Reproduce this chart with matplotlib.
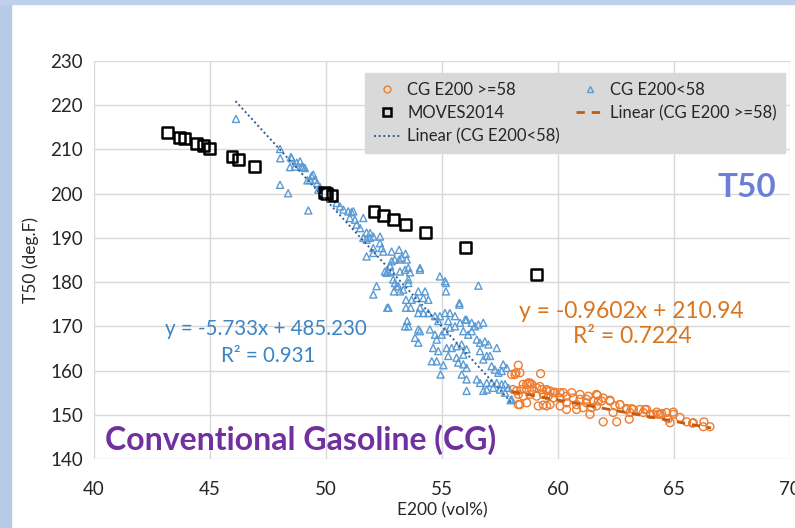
import numpy as np
import matplotlib.pyplot as plt
from matplotlib.patches import Rectangle
from matplotlib.lines import Line2D

plt.rcParams['font.family'] = ['Lato', 'DejaVu Sans']

# MOVES2014 points
moves_x = [43.18, 43.68, 43.89, 44.40, 44.71, 44.97, 45.95, 46.24, 46.90,
           49.93, 50.03, 50.26, 52.07, 52.47, 52.93, 53.41, 54.30, 56.02, 59.09]
moves_y = [213.8, 212.8, 212.5, 211.4, 210.8, 210.3, 208.3, 207.8, 206.2,
           200.3, 200.1, 199.5, 196.0, 195.1, 194.2, 193.1, 191.3, 187.8, 181.7]

# CG E200<58 (blue triangles)
blue_x = [46.12, 48.02, 48.03, 48.49, 48.74, 48.88, 48.45, 48.66, 48.95, 49.09,
          48.02, 48.37, 49.45, 49.31, 49.53, 49.62, 49.20, 49.74, 49.67, 48.52,
          49.02, 49.24, 49.38, 50.46, 50.60, 50.75, 50.96, 51.18, 51.61, 51.10,
          51.03, 51.25, 51.32, 51.47, 51.75, 51.90, 52.04, 51.61, 51.75, 51.90,
          52.33, 52.33, 52.40, 52.47, 52.04, 51.75, 52.04, 52.83, 53.15, 53.43,
          53.48, 53.16, 52.96, 52.83, 53.26, 52.76, 52.69, 52.54, 52.83, 53.19,
          53.41, 53.55, 53.62, 53.55, 52.90, 53.05, 52.18, 54.05, 52.04, 52.97,
          53.12, 52.93, 53.19, 53.33, 53.55, 52.69, 53.45, 53.69, 53.91, 53.98,
          54.27, 54.41, 54.20, 53.45, 53.65, 53.98, 54.20, 54.41, 54.05, 55.17,
          55.17, 55.75, 54.70, 54.91, 55.13, 55.34, 55.56, 55.27, 54.84, 53.50,
          53.41, 53.55, 53.98, 54.05, 54.48, 54.70, 54.99, 54.77, 55.13, 55.34,
          55.56, 55.78, 56.00, 53.84, 53.98, 54.62, 54.84, 55.20, 55.42, 55.63,
          55.85, 56.06, 54.56, 54.77, 55.27, 55.63, 55.92, 55.70, 55.92, 56.06,
          55.06, 54.94, 55.85, 56.06, 56.06, 56.57, 57.36, 56.06, 56.28, 56.42,
          56.57, 56.78, 55.92, 56.13, 56.28, 56.50, 56.64, 56.85, 57.00, 56.64,
          56.93, 57.07, 56.78, 57.64, 57.79, 57.57, 57.43, 57.28, 57.14, 56.50,
          56.64, 56.93, 57.14, 57.36, 57.57, 57.72, 57.86, 56.93, 57.21, 57.50,
          57.72, 56.78, 58.00, 57.96, 52.61, 54.05, 54.91, 55.13, 55.75, 52.64]
blue_y = [216.9, 210.1, 208.0, 208.3, 207.0, 207.3, 206.0, 206.1, 206.1, 205.8,
          202.0, 200.1, 204.3, 203.1, 203.1, 202.4, 203.0, 201.5, 200.9, 208.0,
          206.0, 196.2, 204.0, 197.9, 197.1, 196.4, 196.0, 196.0, 194.5, 195.8,
          194.5, 194.1, 193.0, 192.2, 191.2, 191.1, 190.3, 190.0, 189.6, 190.0,
          190.3, 188.8, 187.7, 186.9, 187.7, 185.8, 186.6, 186.9, 187.3, 186.4,
          185.1, 185.1, 185.1, 184.7, 185.5, 183.7, 182.2, 182.4, 182.4, 182.4,
          182.8, 183.2, 182.2, 180.6, 180.6, 179.1, 179.1, 182.8, 177.2, 179.8,
          179.1, 177.9, 177.9, 178.3, 179.8, 174.2, 176.0, 176.0, 176.4, 177.9,
          177.9, 176.0, 176.4, 174.2, 174.2, 173.0, 173.0, 173.0, 174.2, 179.8,
          177.9, 174.9, 172.3, 172.3, 173.0, 173.0, 172.3, 171.2, 171.2, 171.2,
          170.0, 170.0, 169.3, 168.9, 169.3, 168.1, 168.1, 167.0, 168.9, 169.7,
          170.0, 170.8, 171.5, 167.4, 166.3, 165.1, 164.4, 165.1, 165.1, 165.5,
          165.9, 164.8, 162.1, 162.1, 163.3, 162.9, 163.6, 161.8, 161.4, 160.6,
          161.2, 159.1, 159.1, 158.0, 155.4, 179.2, 165.1, 171.5, 170.8, 170.0,
          170.4, 170.8, 168.9, 168.1, 168.9, 167.0, 166.3, 166.6, 165.9, 164.4,
          163.3, 163.3, 162.5, 161.4, 160.6, 159.9, 159.5, 160.2, 161.0, 158.0,
          157.2, 157.2, 157.2, 157.2, 156.9, 156.9, 156.1, 155.7, 156.1, 155.7,
          155.0, 155.4, 153.5, 153.3, 182.1, 183.2, 181.3, 180.2, 175.3, 174.2]

# CG E200 >=58 (orange circles)
orange_x = [58.29, 58.19, 58.36, 59.25, 58.72, 58.87, 58.50, 58.43, 58.65, 58.87,
            59.08, 59.29, 59.51, 59.66, 59.87, 60.09, 58.22, 58.07, 58.29, 58.50,
            58.79, 59.08, 59.37, 59.58, 59.80, 60.09, 60.37, 60.66, 60.95, 61.23,
            61.52, 61.74, 58.36, 59.15, 59.51, 60.09, 60.37, 60.80, 61.23, 61.45,
            61.66, 58.79, 59.22, 59.51, 59.80, 60.23, 60.59, 60.95, 61.31, 61.66,
            61.95, 59.37, 59.66, 60.37, 60.80, 61.09, 61.38, 62.24, 62.46, 62.67,
            62.96, 63.25, 63.53, 63.82, 64.11, 64.40, 64.68, 64.97, 65.26, 65.55,
            65.83, 66.29, 66.55, 61.95, 62.53, 64.97, 63.68, 64.25, 61.70, 61.88,
            62.24, 62.67, 62.96, 63.17, 63.75, 62.38, 63.10, 63.97, 64.32, 64.47,
            63.07, 64.75, 64.83, 65.80, 66.26, 58.00, 58.15, 58.65, 58.29, 58.65]
orange_y = [161.2, 159.5, 159.5, 159.3, 157.2, 156.9, 156.9, 155.7, 155.7, 155.7,
            156.1, 155.7, 155.7, 155.4, 155.1, 155.0, 155.4, 155.7, 154.6, 154.2,
            154.6, 154.2, 154.6, 154.2, 153.8, 153.8, 154.2, 153.8, 153.5, 153.5,
            153.1, 153.1, 152.3, 152.0, 152.0, 152.0, 152.7, 152.3, 152.7, 151.6,
            152.0, 157.2, 156.4, 155.4, 155.0, 155.0, 155.0, 154.6, 154.2, 154.6,
            153.8, 152.2, 152.3, 151.2, 151.2, 151.6, 150.1, 153.1, 152.0, 152.3,
            151.2, 151.2, 151.2, 151.2, 150.1, 150.1, 150.5, 150.1, 149.4, 148.4,
            148.2, 148.4, 147.3, 148.4, 148.4, 150.6, 150.5, 150.6, 154.4, 153.1,
            153.3, 152.3, 151.4, 151.4, 151.2, 150.5, 150.5, 150.1, 150.1, 150.3,
            149.0, 149.1, 148.2, 148.1, 147.3, 159.1, 159.1, 156.9, 152.3, 152.7]

# trendlines (Excel fits)
blue_slope, blue_icpt = -5.733, 485.230
orange_slope, orange_icpt = -0.9602, 210.94
blue_range = [46.1, 58.0]
orange_range = [58.0, 66.6]

fig = plt.figure(figsize=(7.95, 5.28), dpi=100)
# slide frame bits
fig.patches.append(Rectangle((0, 0), 0.014, 1, transform=fig.transFigure,
                             color='#b8cbe6', zorder=0))
fig.patches.append(Rectangle((0, 0.992), 1, 0.008, transform=fig.transFigure,
                             color='#bfd0ea', zorder=0))

ax = fig.add_axes([0.1182, 0.1307, 0.8755, 0.7538])
ax.set_xlim(40, 70)
ax.set_ylim(140, 230)
ax.set_xticks(np.arange(40, 71, 5))
ax.set_yticks(np.arange(140, 231, 10))
ax.grid(True, color='#d9d9d9', lw=1)
ax.set_axisbelow(True)
for s in ax.spines.values():
    s.set_visible(False)
ax.tick_params(length=0, labelsize=13.5, colors='#262626')
ax.tick_params(axis='x', pad=16)
ax.tick_params(axis='y', pad=8)
ax.set_xlabel('E200 (vol%)', fontsize=12.5, color='#262626', labelpad=3)
ax.set_ylabel('T50 (deg.F)', fontsize=12.5, color='#262626', labelpad=8)

ax.scatter(orange_x, orange_y, s=32, facecolors='none', edgecolors='#ed7d31',
           linewidths=1.0, zorder=3)
ax.scatter(blue_x, blue_y, marker='^', s=26, facecolors='none',
           edgecolors='#5b9bd5', linewidths=1.0, zorder=3)
ax.scatter(moves_x, moves_y, marker='s', s=62, facecolors='none',
           edgecolors='black', linewidths=1.8, zorder=4)

xb = np.array(blue_range)
ax.plot(xb, blue_slope * xb + blue_icpt, color='#2f5f93', lw=1.4,
        linestyle=(0, (1, 1.4)), zorder=5)
xo = np.array(orange_range)
ax.plot(xo, orange_slope * xo + orange_icpt, color='#c55a11', lw=2,
        linestyle=(0, (3, 2.5)), zorder=5)

handles = [
    Line2D([], [], marker='o', ls='none', mfc='none', mec='#ed7d31', ms=5),
    Line2D([], [], marker='s', ls='none', mfc='none', mec='black', mew=1.8, ms=6),
    Line2D([], [], color='#2f5f93', lw=1.4, linestyle=(0, (1, 1.4))),
    Line2D([], [], marker='^', ls='none', mfc='none', mec='#5b9bd5', ms=5),
    Line2D([], [], color='#c55a11', lw=2, linestyle=(0, (3, 2.5))),
]
labels = ['CG E200 >=58', 'MOVES2014', 'Linear (CG E200<58)',
          'CG E200<58', 'Linear (CG E200 >=58)']
leg = ax.legend(handles, labels, ncol=2, loc='upper left',
                bbox_to_anchor=(0.378, 0.99), fontsize=12, frameon=True,
                fancybox=False, facecolor='#d9d9d9', edgecolor='#d9d9d9',
                framealpha=1, handlelength=1.6, handletextpad=0.4,
                columnspacing=1.0, labelspacing=0.45, borderpad=0.5)
for t in leg.get_texts():
    t.set_color('#262626')
leg.set_zorder(6)

ax.text(47.41, 169.3, 'y = -5.733x + 485.230', color='#3b84c6', fontsize=14.8,
        ha='center', va='center', zorder=7)
ax.text(47.5, 163.2, 'R² = 0.931', color='#3b84c6', fontsize=14.8,
        ha='center', va='center', zorder=7)
ax.text(63.15, 173.3, 'y = -0.9602x + 210.94', color='#d9741f', fontsize=16.5,
        ha='center', va='center', zorder=7)
ax.text(63.2, 167.7, 'R² = 0.7224', color='#d9741f', fontsize=16.5,
        ha='center', va='center', zorder=7)
ax.text(68.15, 201.3, 'T50', color='#6b7fd8', fontsize=24, fontweight='bold',
        ha='center', va='center', zorder=7)
ax.text(40.47, 144.4, 'Conventional Gasoline (CG)', color='#7030a0',
        fontsize=23, fontweight='bold', ha='left', va='center', zorder=7)

fig.savefig('out.png', dpi=100)
